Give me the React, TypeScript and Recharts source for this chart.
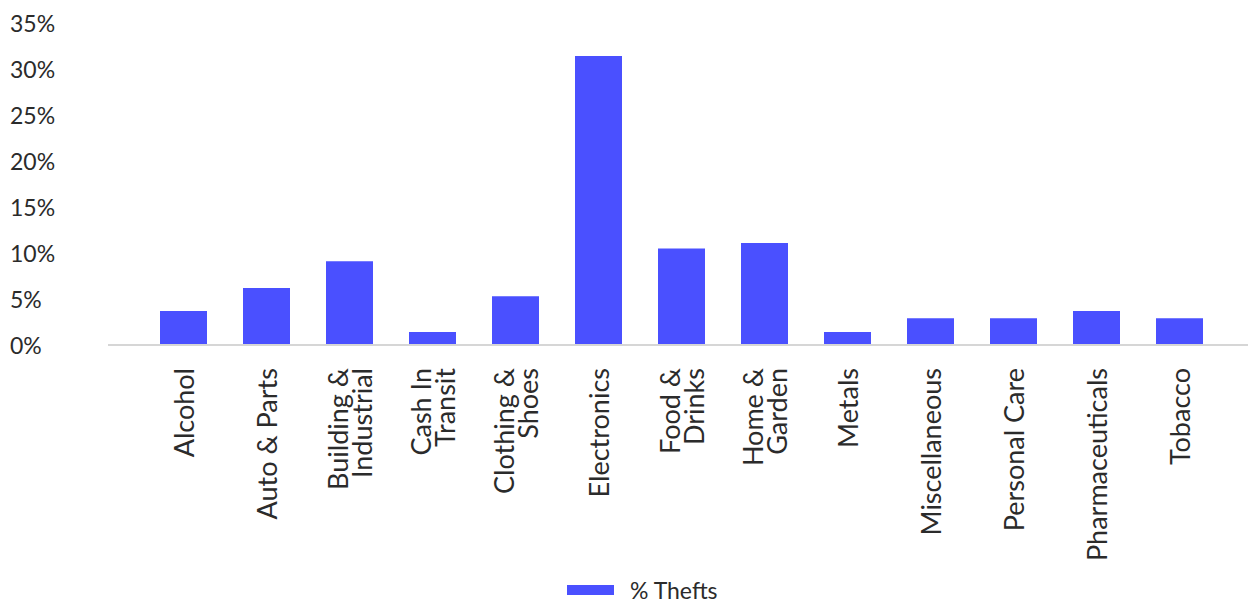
// Share of cargo thefts by product category, single bar series.

import { BarChart, Bar, XAxis, YAxis, Legend } from "recharts";

const CATEGORIES = [
  "Alcohol",
  "Auto & Parts",
  "Building & Industrial",
  "Cash In Transit",
  "Clothing & Shoes",
  "Electronics",
  "Food & Drinks",
  "Home & Garden",
  "Metals",
  "Miscellaneous",
  "Personal Care",
  "Pharmaceuticals",
  "Tobacco",
];

// label lines as drawn under the axis
const LABEL_LINES: string[][] = [
  ["Alcohol"],
  ["Auto & Parts"],
  ["Building &", "Industrial"],
  ["Cash In", "Transit"],
  ["Clothing &", "Shoes"],
  ["Electronics"],
  ["Food &", "Drinks"],
  ["Home &", "Garden"],
  ["Metals"],
  ["Miscellaneous"],
  ["Personal Care"],
  ["Pharmaceuticals"],
  ["Tobacco"],
];

const THEFT_PCT = [3.7, 6.2, 9.1, 1.4, 5.3, 31.4, 10.5, 11.1, 1.4, 2.9, 2.9, 3.7, 2.9];

const Y_TICKS = [0, 5, 10, 15, 20, 25, 30, 35];

const BAR_COLOR = "#4a50ff";
const TEXT_COLOR = "#2b2b2b";
const FONT = "Lato, 'Open Sans', sans-serif";

const data = CATEGORIES.map((c, i) => ({ category: c, pct: THEFT_PCT[i] }));

function XTick({ x, y, index }: any) {
  const lines = LABEL_LINES[index] ?? [];
  const n = lines.length;
  return (
    <g transform={`translate(${x},${y + 23}) rotate(-90)`}>
      {lines.map((ln, i) => (
        <text
          key={i}
          x={0}
          y={(i - (n - 1) / 2) * 24}
          textAnchor="end"
          dominantBaseline="central"
          fontSize={27}
          fontFamily={FONT}
          fill={TEXT_COLOR}
        >
          {ln}
        </text>
      ))}
    </g>
  );
}

function YTick({ y, payload }: any) {
  return (
    <text x={10} y={y} textAnchor="start" dominantBaseline="central" fontSize={23} fontFamily={FONT} fill={TEXT_COLOR}>
      {`${payload.value}%`}
    </text>
  );
}

function LegendBox() {
  return (
    <div style={{ height: 24, display: "flex", alignItems: "center", paddingLeft: 567, fontFamily: FONT }}>
      <span style={{ display: "inline-block", width: 47, height: 10, background: BAR_COLOR, marginRight: 16 }} />
      <span style={{ fontSize: 23, color: TEXT_COLOR, lineHeight: "24px" }}>% Thefts</span>
    </div>
  );
}

export default function App() {
  return (
    <div style={{ position: "absolute", left: 0, top: 0, width: 1248, height: 604, background: "#fff", fontFamily: FONT }}>
      <BarChart width={1248} height={604} data={data} margin={{ top: 23, right: 0, left: 0, bottom: 2 }}>
        <XAxis
          dataKey="category"
          interval={0}
          height={233}
          tickLine={false}
          tickSize={0}
          tickMargin={0}
          tick={<XTick />}
          padding={{ left: 34, right: 27 }}
          axisLine={{ stroke: "#d6d6d6", strokeWidth: 2 }}
        />
        <YAxis
          domain={[0, 35]}
          ticks={Y_TICKS}
          width={108}
          axisLine={false}
          tickLine={false}
          tick={<YTick />}
        />
        <Legend verticalAlign="bottom" wrapperStyle={{ left: 0, width: 1248 }} content={<LegendBox />} />
        <Bar dataKey="pct" name="% Thefts" fill={BAR_COLOR} barSize={47} isAnimationActive={false} />
      </BarChart>
    </div>
  );
}
